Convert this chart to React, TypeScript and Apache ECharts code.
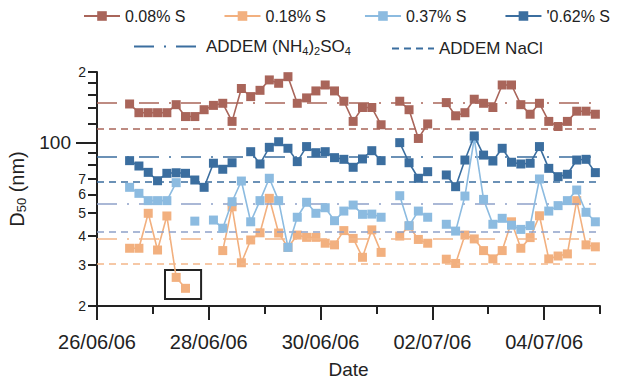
import React, { useEffect, useRef } from "react";
import * as echarts from "echarts";

// Hours since 26/06/06 00:00 (4-hourly samples)
const TIME_H = [2, 6, 10, 14, 18, 22, 26, 30, 34, 38, 42, 46, 50, 54, 58, 62, 66, 70, 74, 78, 82, 86, 90, 94, 98, 102, 106, 110, 114, 118, 122, 126, 130, 134, 138, 142, 146, 150, 154, 158, 162, 166, 170, 174, 178, 182, 186, 190, 194, 198, 202, 206, 210, 214];

const S008 = [null, null, null, 146, 134, 134, 134, 134, 145, 129, 129, 138, 144, 147, 123, 170, 157, 167, 185, 179, 191, 147, 155, 166, 176, 166, 150, 123, 141, 141, 119, null, 150, 138, 104, 120, null, 148, 130, 134, 153, 147, 141, 176, 176, 145, 132, 147, 123, 117, 123, 136, 136, 132];
const S018 = [null, null, null, 35.3, 35.3, 49.8, 34.7, 48.5, 26.5, 23.8, null, null, null, 34.5, 53.1, 30.6, 38.3, 41.1, 57.7, 41.0, 35.6, 40.2, 39.3, 39.3, 37.1, 36.5, 42.0, 38.9, 32.3, 42.3, 33.9, null, 39.8, 43.9, 38.5, 37.1, null, 31.7, 30.4, 40.2, 38.7, 34.5, 31.8, 34.5, 45.8, 35.3, 39.2, 48.6, 31.8, 32.7, 33.4, 56.4, 36.5, 35.8];
const S037 = [null, null, null, 64.3, 60.6, 56.4, 56.4, 56.4, 67.3, null, 46.1, null, 46.6, 43.0, 55.8, 68.4, 45.8, 56.4, 70.3, 56.4, 35.6, 47.9, 55.5, 49.8, 52.6, 46.3, 50.9, 54.0, 49.3, 49.4, 47.9, null, 59.2, 44.1, 50.9, 47.9, null, 44.7, 41.8, 59.0, 104, 57.1, 44.7, 47.4, 44.3, 42.5, 44.1, 69.8, 50.9, 53.7, 56.4, 62.6, 50.3, 45.8];
const S062 = [null, null, null, 83.6, 79.3, 74.5, 68.6, 73.8, 74.2, 73.8, 69.1, 64.3, 81.5, 76.8, 81.9, null, 91.3, 80.9, 95.3, 100.7, 94.4, 82.8, 96.0, 90.4, 91.3, 86.1, 84.7, 78.3, 85.0, 92.2, 83.6, null, 99.8, 81.9, 70.3, 75.0, null, 72.6, 64.7, 84.1, 106.6, 88.3, 83.3, 94.4, 82.3, 80.9, 81.5, 96.0, 77.5, 71.4, 73.1, 84.1, 84.7, 74.3];

const SERIES_NAMES = ["0.08% S", "0.18% S", "0.37% S", "'0.62% S"];
const ADDEM_AS = [146.4, 38.7, 54.6, 86.4];
const ADDEM_NACL = [115.6, 29.9, 41.8, 67.6];
const ADDEM_NAMES = ["ADDEM (NH4)2SO4", "ADDEM NaCl"];

const DATE_LABELS = ["26/06/06", "28/06/06", "30/06/06", "02/07/06", "04/07/06"];
const Y_LABEL_VALUES = [20, 30, 40, 50, 60, 70, 100, 200];
const Y_LABEL_TEXT = ["2", "3", "4", "5", "6", "7", "100", "2"];
const Y_TICK_VALUES = [20, 30, 40, 50, 60, 70, 80, 90, 100, 120, 140, 160, 180, 200];

// highlighted box (hours, nm)
const BOX_X = [29.2, 44.7];
const BOX_Y = [28.5, 21.4];

const COLORS = ["#a9655a", "#f2b07f", "#8cbbe0", "#3b6e9f"];
const REF_COLORS = ["#a9655a", "#f3b689", "#8fa1c9", "#3b6e9f"];
const FONT = "'Liberation Sans', Arial, sans-serif";
const TXT = "#222";
const DASHDOT = [20, 10, 2, 10];
const DASH = [7, 5];

const lg = (v: number) => Math.log10(v);

function buildOption() {
  const dataSeries = [S008, S018, S037, S062].map((arr, i) => ({
    name: SERIES_NAMES[i],
    type: "line",
    z: 3 + i,
    data: TIME_H.map((h, k) => [h, arr[k] == null ? null : lg(arr[k] as number)]),
    connectNulls: false,
    symbol: "rect",
    symbolSize: 9,
    itemStyle: { color: COLORS[i] },
    lineStyle: { color: COLORS[i], width: 1.6 },
    markArea:
      i === 1
        ? {
            silent: true,
            itemStyle: { color: "rgba(0,0,0,0)", borderColor: TXT, borderWidth: 2 },
            data: [[{ xAxis: BOX_X[0], yAxis: lg(BOX_Y[0]) }, { xAxis: BOX_X[1], yAxis: lg(BOX_Y[1]) }]],
          }
        : undefined,
  }));

  const refSeries = [ADDEM_AS, ADDEM_NACL].map((vals, j) => ({
    name: ADDEM_NAMES[j],
    type: "line",
    z: 1,
    data: [],
    symbol: "none",
    itemStyle: { color: "#3b6e9f" },
    lineStyle: { color: "#3b6e9f", width: 1.6, type: j === 0 ? DASHDOT : DASH },
    markLine: {
      silent: true,
      symbol: ["none", "none"],
      label: { show: false },
      data: vals.map((v, i) => ({
        yAxis: lg(v),
        lineStyle: { color: REF_COLORS[i], width: 1.6, type: j === 0 ? DASHDOT : DASH },
      })),
    },
  }));

  const baseAxisText = { fontFamily: FONT, color: TXT };
  const hiddenSymbol = { color: "rgba(0,0,0,0)", borderColor: "rgba(0,0,0,0)", borderWidth: 0 };

  return {
    animation: false,
    textStyle: { fontFamily: FONT, color: TXT },
    grid: { left: 97, right: 40, top: 72, bottom: 74, containLabel: false, outerBoundsMode: "none" },
    legend: [
      {
        data: SERIES_NAMES,
        left: 83,
        top: 8,
        padding: 0,
        itemWidth: 36,
        itemHeight: 12,
        itemGap: 38,
        textStyle: { ...baseAxisText, fontSize: 16 },
      },
      {
        data: [ADDEM_NAMES[0]],
        left: 133,
        top: 38,
        padding: 0,
        itemWidth: 67,
        itemHeight: 12,
        itemStyle: hiddenSymbol,
        formatter: () => "{a|ADDEM (NH}{s|4}{a|)}{s|2}{a|SO}{s|4}",
        textStyle: {
          ...baseAxisText,
          fontSize: 17,
          rich: {
            a: { fontSize: 17, fontFamily: FONT, color: TXT },
            s: { fontSize: 11, fontFamily: FONT, color: TXT, padding: [9, 0, 0, 0] },
          },
        },
      },
      {
        data: [ADDEM_NAMES[1]],
        left: 391,
        top: 40,
        padding: 0,
        itemWidth: 42,
        itemHeight: 12,
        itemStyle: hiddenSymbol,
        textStyle: { ...baseAxisText, fontSize: 17 },
      },
    ],
    xAxis: [
      {
        type: "value",
        position: "bottom",
        min: 0,
        max: 216,
        interval: 24,
        axisLine: { show: true, lineStyle: { color: TXT, width: 2 } },
        axisTick: { show: true, length: 8, lineStyle: { color: TXT, width: 2 } },
        axisLabel: { show: false },
        splitLine: { show: false },
      },
      {
        type: "value",
        position: "bottom",
        min: 0,
        max: 216,
        interval: 48,
        axisLine: { show: false },
        axisTick: { show: true, length: 14, lineStyle: { color: TXT, width: 2 } },
        axisLabel: {
          show: true,
          margin: 26,
          fontSize: 20,
          ...baseAxisText,
          formatter: (v: number) => DATE_LABELS[Math.round(v / 48)] ?? "",
          showMaxLabel: false,
        },
        splitLine: { show: false },
        name: "Date",
        nameLocation: "middle",
        nameGap: 54,
        nameTextStyle: { ...baseAxisText, fontSize: 19 },
      },
    ],
    yAxis: [
      {
        type: "value",
        position: "left",
        min: lg(20),
        max: lg(200),
        axisLine: { show: true, lineStyle: { color: TXT, width: 2 } },
        axisTick: {
          show: true,
          length: 9,
          customValues: Y_TICK_VALUES.map(lg),
          lineStyle: { color: TXT, width: 2 },
        },
        axisLabel: {
          show: true,
          margin: 11,
          customValues: Y_LABEL_VALUES.map(lg),
          formatter: (v: number) => {
            const i = Y_LABEL_VALUES.findIndex((y) => Math.abs(lg(y) - v) < 1e-6);
            if (i < 0) return "";
            const t = Y_LABEL_TEXT[i];
            return Y_LABEL_VALUES[i] === 100 ? `{big|${t}}` : `{sm|${t}}`;
          },
          rich: {
            big: { fontSize: 19, fontFamily: FONT, color: TXT, padding: [0, 15, 0, 0] },
            sm: { fontSize: 14, fontFamily: FONT, color: TXT },
          },
        },
        splitLine: { show: false },
        name: "{a|D}{s|50}{a| (nm)}",
        nameLocation: "middle",
        nameGap: 52,
        nameTextStyle: {
          rich: {
            a: { fontSize: 20, fontFamily: FONT, color: TXT },
            s: { fontSize: 13, fontFamily: FONT, color: TXT, padding: [10, 0, 0, 0] },
          },
        },
      },
      {
        type: "value",
        position: "left",
        min: lg(20),
        max: lg(200),
        axisLine: { show: false },
        axisTick: {
          show: true,
          length: 21,
          customValues: [lg(100)],
          lineStyle: { color: TXT, width: 2 },
        },
        axisLabel: { show: false },
        splitLine: { show: false },
      },
    ],
    series: [...refSeries, ...dataSeries],
  };
}

export default function App() {
  const ref = useRef<HTMLDivElement>(null);
  useEffect(() => {
    if (!ref.current) return;
    const chart = echarts.init(ref.current, null, { renderer: "svg" });
    chart.setOption(buildOption() as any);
    return () => chart.dispose();
  }, []);
  return (
    <div
      ref={ref}
      style={{ position: "fixed", left: 0, top: 0, width: 640, height: 380, background: "#fff" }}
    />
  );
}
